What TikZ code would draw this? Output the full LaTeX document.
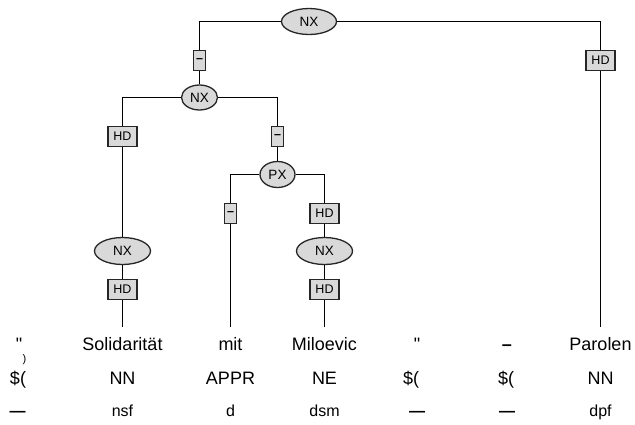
\documentclass[tikz,border=0pt]{standalone}
\usepackage{fontspec}
\setmainfont{Liberation Sans}[Ligatures=TeXOff]
\usetikzlibrary{shapes.geometric}
\begin{document}
\begin{tikzpicture}[x=1pt,y=-1pt,line width=1.3pt,
  catnode/.style={ellipse,draw=black!85,fill=black!15,inner sep=0pt,font=\fontsize{13.5}{13.5}\selectfont},
  edgebox/.style={rectangle,draw=black!85,fill=black!15,inner sep=0pt,minimum height=20pt,minimum width=29pt,font=\fontsize{12.5}{12.5}\selectfont},
  dashbox/.style={edgebox,minimum width=11.5pt},
  wordnode/.style={anchor=base,inner xsep=1pt,inner ysep=8.5pt,text height=14pt,text depth=0pt,font=\fontsize{18}{18}\selectfont},
  postag/.style={anchor=base,inner sep=0pt,font=\fontsize{18}{18}\selectfont},
  morphtag/.style={anchor=base,inner sep=0pt,font=\fontsize{16}{16}\selectfont}]
\useasboundingbox (0,0) rectangle (635,424);
% nodes
\node[catnode,minimum width=55pt,minimum height=26pt] (nx1) at (309,21.5) {NX};
\node[dashbox] (d1) at (199.5,60.5) {\textbf{–}};
\node[edgebox] (hd1) at (600.5,60.5) {HD};
\node[catnode,minimum width=36pt,minimum height=25pt] (nx2) at (199.5,97.5) {NX};
\node[edgebox] (hd2) at (122.5,136.5) {HD};
\node[dashbox] (d2) at (277.5,136.5) {\textbf{–}};
\node[catnode,minimum width=35pt,minimum height=26pt] (px) at (277.5,174.5) {PX};
\node[dashbox] (d3) at (230.5,213.5) {\textbf{–}};
\node[edgebox] (hd4) at (324.5,213.5) {HD};
\node[catnode,minimum width=56pt,minimum height=27pt] (nx3) at (122.5,251) {NX};
\node[catnode,minimum width=56pt,minimum height=27pt] (nx4) at (324.5,251) {NX};
\node[edgebox] (hd3) at (122.5,289.5) {HD};
\node[edgebox] (hd5) at (324.5,289.5) {HD};
% words
\node[wordnode] (w1) at (19,350) {"};
\node[wordnode] (w2) at (122.5,350) {Solidarität};
\node[wordnode] (w3) at (230.5,350) {mit};
\node[wordnode] (w4) at (324.5,350) {Miloevic};
\node[wordnode] (w5) at (417,350) {"};
\node[wordnode] (w6) at (507,350) {\textbf{–}};
\node[wordnode] (w7) at (600.5,350) {Parolen};
\node[anchor=base,inner sep=0pt,font=\fontsize{11}{11}\selectfont] (x1) at (24.5,362) {)};
% POS
\node[postag] (p1) at (18,384) {\$(};
\node[postag] (p2) at (122.5,384) {NN};
\node[postag] (p3) at (230.5,384) {APPR};
\node[postag] (p4) at (324.5,384) {NE};
\node[postag] (p5) at (411,384) {\$(};
\node[postag] (p6) at (506,384) {\$(};
\node[postag] (p7) at (600.5,384) {NN};
% morph
\node[morphtag] (m1) at (17.5,416) {\textbf{—}};
\node[morphtag] (m2) at (122.5,416) {nsf};
\node[morphtag] (m3) at (230.5,416) {d};
\node[morphtag] (m4) at (324.5,416) {dsm};
\node[morphtag] (m5) at (417,416) {\textbf{—}};
\node[morphtag] (m6) at (507,416) {\textbf{—}};
\node[morphtag] (m7) at (600.5,416) {dpf};
% edges
\draw (nx1.west) -| (d1.north);
\draw (d1) -- (nx2);
\draw (nx1.east) -| (hd1.north);
\draw (hd1) -- (w7);
\draw (nx2.west) -| (hd2.north);
\draw (hd2) -- (nx3);
\draw (nx3) -- (hd3);
\draw (hd3) -- (w2);
\draw (nx2.east) -| (d2.north);
\draw (d2) -- (px);
\draw (px.west) -| (d3.north);
\draw (d3) -- (w3);
\draw (px.east) -| (hd4.north);
\draw (hd4) -- (nx4);
\draw (nx4) -- (hd5);
\draw (hd5) -- (w4);
\end{tikzpicture}
\end{document}
